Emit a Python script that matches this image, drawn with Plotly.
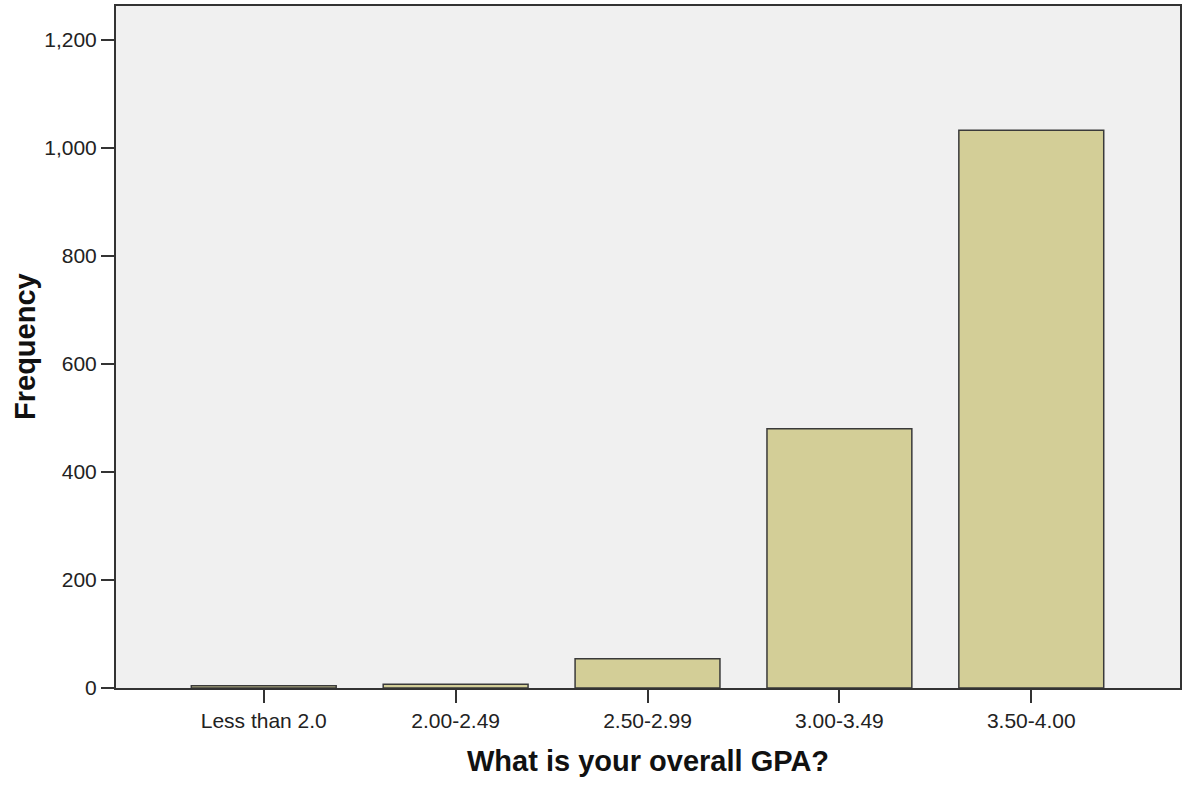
import plotly.graph_objects as go

categories = ["Less than 2.0", "2.00-2.49", "2.50-2.99", "3.00-3.49", "3.50-4.00"]
frequency = [4, 7, 54, 480, 1033]
y_ticks = [0, 200, 400, 600, 800, 1000, 1200]

FONT = "Liberation Sans, Arial, sans-serif"

fig = go.Figure(
    go.Bar(
        x=list(range(len(categories))),
        y=frequency,
        marker=dict(color="#D3CE97", line=dict(color="#3A3A3A", width=1.5)),
        hoverinfo="x+y",
    )
)

fig.update_layout(
    width=1186,
    height=786,
    margin=dict(l=116, r=4, t=5, b=98),
    paper_bgcolor="white",
    plot_bgcolor="#F0F0F0",
    bargap=0.245,
    showlegend=False,
    font=dict(family=FONT, size=21, color="#222222"),
)

fig.update_xaxes(
    range=[-0.77, 4.775],
    tickmode="array",
    tickvals=list(range(len(categories))),
    ticktext=categories,
    ticks="outside",
    ticklen=13,
    tickwidth=1.5,
    tickcolor="#333333",
    showgrid=False,
    zeroline=False,
    showline=True,
    linecolor="#333333",
    linewidth=2,
    mirror=True,
    tickfont=dict(size=21, family=FONT, color="#222222"),
)

fig.update_yaxes(
    range=[0, 1263],
    tickmode="array",
    tickvals=y_ticks,
    tickformat=",d",
    ticks="outside",
    ticklen=13,
    tickwidth=1.5,
    tickcolor="#333333",
    showgrid=False,
    zeroline=False,
    showline=True,
    linecolor="#333333",
    linewidth=2,
    mirror=True,
    tickfont=dict(size=21, family=FONT, color="#222222"),
)

fig.add_annotation(
    text="<b>Frequency</b>",
    xref="paper", yref="paper",
    x=0, y=0.5,
    xanchor="center", yanchor="middle",
    xshift=-91,
    textangle=-90,
    showarrow=False,
    font=dict(size=29, family=FONT, color="#111111"),
)

fig.add_annotation(
    text="<b>What is your overall GPA?</b>",
    xref="paper", yref="paper",
    x=0.5, y=0,
    xanchor="center", yanchor="middle",
    yshift=-73,
    showarrow=False,
    font=dict(size=29, family=FONT, color="#111111"),
)

fig.write_html(
    "out.html",
    config={"displayModeBar": False},
    post_script="document.body.style.margin='0';document.body.style.overflow='hidden';",
)
